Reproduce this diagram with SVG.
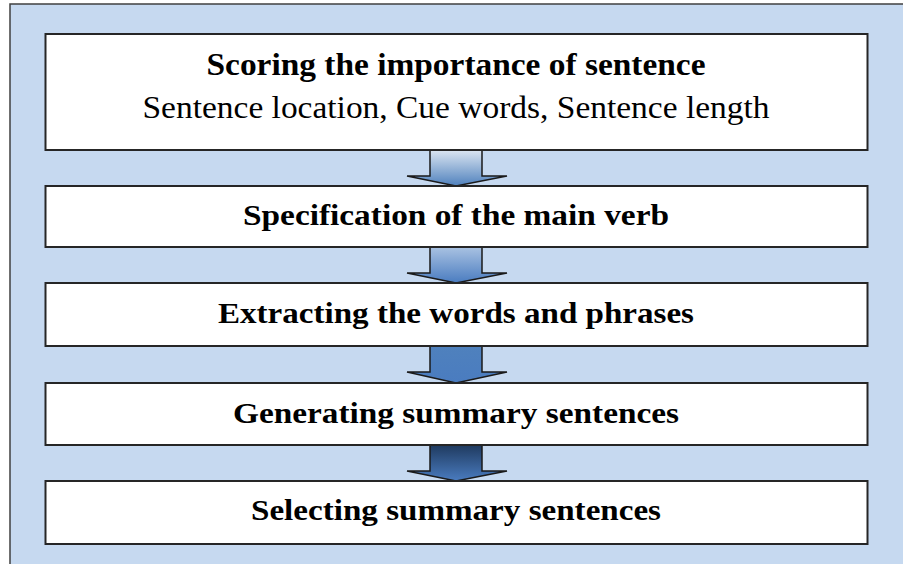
<svg xmlns="http://www.w3.org/2000/svg" width="903" height="564" viewBox="0 0 903 564">
<defs>
<style>
.bg{fill:#c6d9f0;stroke:#404040;stroke-width:1.5}
.box{fill:#fff;stroke:#262626;stroke-width:2}
.t{font-family:"Liberation Serif","Times New Roman",serif;font-size:30px;fill:#000;text-anchor:middle}
.b{font-weight:bold}
.arr{stroke:#1a1a1a;stroke-width:1.5;stroke-linejoin:miter}
</style>
<linearGradient id="g1" x1="0" y1="0" x2="0" y2="1"><stop offset="0" stop-color="#dce6f2"/><stop offset="1" stop-color="#4f81bd"/></linearGradient>
<linearGradient id="g2" x1="0" y1="0" x2="0" y2="1"><stop offset="0" stop-color="#a9c2e2"/><stop offset="1" stop-color="#4a7cc0"/></linearGradient>
<linearGradient id="g3" x1="0" y1="0" x2="0" y2="1"><stop offset="0" stop-color="#4f81bd"/><stop offset="1" stop-color="#4a7cc0"/></linearGradient>
<linearGradient id="g4" x1="0" y1="0" x2="0" y2="1"><stop offset="0" stop-color="#1f3a5f"/><stop offset="1" stop-color="#4a7cc0"/></linearGradient>
</defs>
<rect class="bg" x="10" y="4" width="900" height="570"/>
<g id="connectors">
<path class="arr" fill="url(#g1)" d="M430,150 V176 H407 L456,186 L507,176 H482 V150"/>
<path class="arr" fill="url(#g2)" d="M430,247 V273 H407 L456,283 L507,273 H482 V247"/>
<path class="arr" fill="url(#g3)" d="M430,346 V372 H407 L456,383 L507,372 H482 V346"/>
<path class="arr" fill="url(#g4)" d="M430,445 V471 H407 L456,481 L507,471 H482 V445"/>
</g>
<g id="n1">
<rect class="box" x="45.5" y="34" width="822" height="116"/>
<text class="t b" x="456" y="75" style="font-size:32px" textLength="499" lengthAdjust="spacingAndGlyphs">Scoring the importance of sentence</text>
<text class="t" x="456" y="118" style="font-size:31px" textLength="627" lengthAdjust="spacingAndGlyphs">Sentence location, Cue words, Sentence length</text>
</g>
<g id="n2">
<rect class="box" x="45.5" y="186" width="822" height="61"/>
<text class="t b" x="456" y="225" textLength="426" lengthAdjust="spacingAndGlyphs">Specification of the main verb</text>
</g>
<g id="n3">
<rect class="box" x="45.5" y="283" width="822" height="63"/>
<text class="t b" x="456" y="323" textLength="476" lengthAdjust="spacingAndGlyphs">Extracting the words and phrases</text>
</g>
<g id="n4">
<rect class="box" x="45.5" y="383" width="822" height="62"/>
<text class="t b" x="456" y="423" textLength="446" lengthAdjust="spacingAndGlyphs">Generating summary sentences</text>
</g>
<g id="n5">
<rect class="box" x="45.5" y="481" width="822" height="63"/>
<text class="t b" x="456" y="520" textLength="410" lengthAdjust="spacingAndGlyphs">Selecting summary sentences</text>
</g>
</svg>
